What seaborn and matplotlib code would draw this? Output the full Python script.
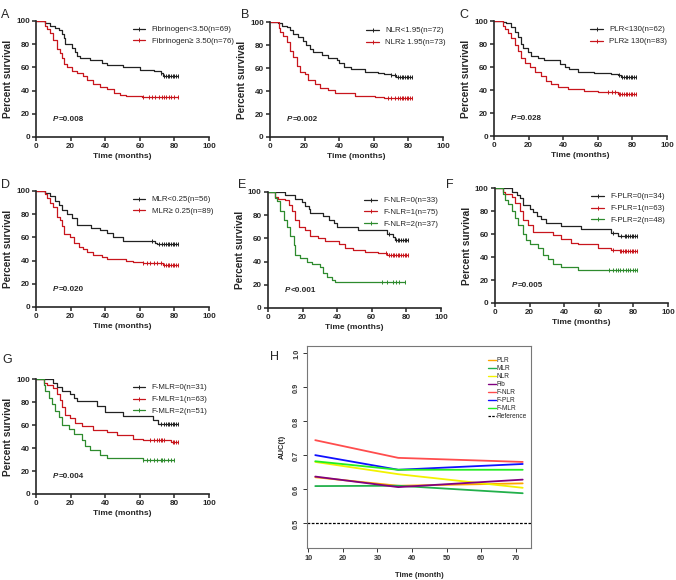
import numpy as np
import matplotlib
matplotlib.use("Agg")
import matplotlib.pyplot as plt
from matplotlib.lines import Line2D
import seaborn as sns

# ---- Kaplan-Meier step data (time in months, survival in %) ----
# A: fibrinogen
a_lo_t = [0, 5, 8, 11, 13, 15, 16, 17, 21, 22.6, 23.6, 25.5, 31, 38, 41, 50, 60, 68, 72, 73.5, 82]
a_lo_s = [100, 98, 96, 94, 92, 89, 85, 80, 77, 73, 70, 68, 66, 64, 62, 60, 58, 57, 55, 53, 53]
a_lo_c = [72, 74, 75, 76, 77, 78, 79, 80, 81, 82]
a_hi_t = [0, 5.4, 6.3, 8.3, 10, 12, 14, 15, 16, 18, 21, 23.6, 27.4, 29.4, 33, 37, 41, 45, 48.5, 52, 61, 82]
a_hi_s = [100, 96, 93, 90, 84, 76, 72, 68, 63, 60, 57, 55, 53, 49, 46, 43, 41, 38, 36, 35, 34.5, 34.5]
a_hi_c = [62, 65, 67, 69, 71, 73, 74, 75, 77, 78, 80, 82]

# B: NLR
b_lo_t = [0, 4.8, 6.7, 9.6, 11.5, 13.5, 16.3, 19, 21, 23, 25, 30, 33.6, 38.5, 40, 43, 47, 55, 62.5, 66, 70, 73, 82]
b_lo_s = [100, 99, 97, 96, 93, 90, 87, 84, 80, 77, 74, 71, 69, 67, 64, 61, 59, 57, 56, 55, 54, 52, 52]
b_lo_c = [70, 72, 74, 75, 76, 77, 78, 79, 80, 81, 82]
b_hi_t = [0, 5, 5.8, 7.7, 9.6, 11.5, 13.5, 15.4, 17.3, 20, 22, 26, 28.8, 33.6, 37.5, 49, 60.6, 66, 82]
b_hi_s = [100, 95, 91, 88, 83, 75, 70, 62, 57, 55, 50, 46, 43, 41, 38, 36, 35, 34, 34]
b_hi_c = [68, 70, 72, 74, 75, 76, 77, 78, 79, 80, 81, 82]

# C: PLR
c_lo_t = [0, 5.2, 7, 10, 12, 13.8, 15.8, 16.7, 19.6, 21.5, 25.4, 29, 38, 40.8, 43.6, 48.5, 58, 67.7, 71.5, 73.5, 82]
c_lo_s = [100, 99, 98, 95, 91, 86, 80, 77, 73, 70, 68, 66, 63, 60, 58, 56, 55, 54, 53, 51.5, 51.5]
c_lo_c = [72, 74, 75, 76, 77, 78, 79, 80, 81, 82]
c_hi_t = [0, 5.2, 6.2, 8, 10, 12, 13.8, 15.8, 17.7, 20.6, 23.5, 27.3, 30.2, 33, 37, 42.7, 52, 60, 71.5, 82]
c_hi_s = [100, 96, 93, 90, 85, 79, 74, 68, 64, 60, 56, 52, 48, 45, 43, 41, 39, 38, 37, 37]
c_hi_c = [66, 68, 70, 72, 73, 74, 75, 76, 77, 78, 79, 80, 81, 82]

# D: MLR
d_lo_t = [0, 5.4, 8.3, 11, 13, 15, 17.8, 20.7, 23.6, 32, 37, 41, 44.7, 50.5, 67.8, 68.7, 69.7, 82]
d_lo_s = [100, 98, 96, 91, 88, 84, 80, 77, 71, 68, 66, 64, 60, 57, 57, 55, 54, 54]
d_lo_c = [67, 71, 73, 74, 75, 76, 77, 78, 79, 80, 81, 82]
d_hi_t = [0, 5.2, 6.3, 8.3, 10, 12, 14, 15, 16, 19.8, 21.7, 24.6, 27.4, 29.4, 33, 38, 41, 52, 56, 62, 73.5, 82]
d_hi_s = [100, 97, 94, 90, 86, 78, 75, 70, 63, 60, 55, 52, 50, 47, 45, 43, 41, 40, 39, 38, 36.5, 36.5]
d_hi_c = [62, 64, 66, 68, 70, 72, 74, 75, 76, 77, 78, 79, 80, 81, 82]

# E: F-NLR
e_0_t = [0, 10, 15.8, 19.6, 21.5, 23.5, 24.4, 32, 35, 37.9, 39.8, 52.3, 68.7, 72.5, 73.5, 81]
e_0_s = [100, 97, 94, 91, 88, 85, 82, 79, 76, 73, 70, 67, 64, 61, 59, 59]
e_0_c = [70, 74, 75, 76, 77, 78, 79, 80, 81]
e_1_t = [0, 4.2, 6, 10, 12, 13.8, 15.8, 17.7, 21.5, 24.4, 29, 33, 40.8, 44.6, 49.4, 56, 63.8, 69, 81]
e_1_s = [100, 96, 94, 93, 89, 84, 76, 70, 67, 62, 60, 58, 55, 52, 50, 48, 47, 46, 46]
e_1_c = [68, 70, 71, 72, 73, 74, 75, 76, 77, 78, 79, 80, 81]
e_2_t = [0, 4.2, 5.2, 7, 9, 11, 12.9, 14.8, 15.8, 18.7, 22.5, 25.4, 30, 32, 34, 37, 38.8, 79]
e_2_s = [100, 95, 92, 84, 76, 70, 62, 54, 46, 43, 40, 38, 35, 30, 27, 24, 22, 22]
e_2_c = [66, 69, 72, 74, 76, 79]

# F: F-PLR
f_0_t = [0, 6.7, 9.6, 12.5, 14.4, 16.3, 20, 22, 24, 26.8, 29.7, 38.3, 49.8, 67, 70.9, 82]
f_0_s = [100, 100, 97, 94, 91, 85, 82, 79, 76, 73, 70, 67, 64, 61, 58, 58]
f_0_c = [68, 73, 75, 76, 77, 78, 79, 80, 81, 82]
f_1_t = [0, 4.8, 5.7, 9.6, 11.5, 14.4, 16.3, 19.2, 22, 33.5, 38.3, 44, 47.9, 59.4, 67, 72, 82]
f_1_s = [100, 97, 95, 92, 87, 80, 72, 68, 62, 59, 56, 52, 51, 48, 46, 45, 45]
f_1_c = [68, 72, 73, 74, 75, 76, 77, 78, 79, 80, 81, 82]
f_2_t = [0, 4.8, 5.7, 7.7, 9.6, 11.5, 13.4, 16.3, 18.2, 20, 25, 27.8, 30.7, 33.5, 38.3, 47.9, 82]
f_2_s = [100, 95, 90, 86, 80, 74, 68, 60, 55, 51, 48, 42, 38, 34, 31, 29, 29]
f_2_c = [66, 68, 70, 71, 72, 74, 76, 77, 78, 80, 81, 82]

# G: F-MLR
g_0_t = [0, 8.3, 10, 12, 15, 19.8, 21.7, 23.6, 35, 40, 50.5, 67.8, 70.6, 82]
g_0_s = [100, 100, 97, 93, 90, 87, 84, 81, 77, 71, 68, 64, 61, 61]
g_0_c = [72, 74, 75, 76, 77, 78, 79, 80, 81, 82]
g_1_t = [0, 4.4, 6.3, 10, 12, 14, 15, 17, 19.8, 22.6, 26.5, 33, 41, 46.6, 56, 62, 78, 82]
g_1_s = [100, 97, 95, 92, 87, 82, 76, 69, 66, 62, 59, 56, 54, 51, 48, 47, 45, 45]
g_1_c = [66, 68, 70, 71, 72, 73, 74, 79, 80, 81, 82]
g_2_t = [0, 4.4, 5.4, 7.3, 9.2, 11, 13, 15, 18.8, 21.7, 26.5, 28.4, 31.3, 37, 41, 62, 80]
g_2_s = [100, 95, 90, 84, 78, 72, 67, 60, 57, 52, 47, 42, 38, 34, 31, 29.5, 29.5]
g_2_c = [62, 64, 66, 68, 70, 72, 73, 74, 76, 78, 80]

km_labels = {
    "A": ["Fibrinogen<3.50(n=69)", "Fibrinogen\u2265 3.50(n=76)"],
    "B": ["NLR<1.95(n=72)", "NLR\u2265 1.95(n=73)"],
    "C": ["PLR<130(n=62)", "PLR\u2265 130(n=83)"],
    "D": ["MLR<0.25(n=56)", "MLR\u2265 0.25(n=89)"],
    "E": ["F-NLR=0(n=33)", "F-NLR=1(n=75)", "F-NLR=2(n=37)"],
    "F": ["F-PLR=0(n=34)", "F-PLR=1(n=63)", "F-PLR=2(n=48)"],
    "G": ["F-MLR=0(n=31)", "F-MLR=1(n=63)", "F-MLR=2(n=51)"],
}
p_values = {"A": "=0.008", "B": "=0.002", "C": "=0.028", "D": "=0.020",
            "E": "<0.001", "F": "=0.005", "G": "=0.004"}

# ---- H: time-dependent AUC ----
auc_times = [12, 36, 72]
auc_names = ["PLR", "MLR", "NLR", "Fib", "F-NLR", "F-PLR", "F-MLR"]
auc_plr = [0.636, 0.611, 0.618]
auc_mlr = [0.610, 0.611, 0.589]
auc_nlr = [0.681, 0.645, 0.605]
auc_fib = [0.638, 0.607, 0.629]
auc_fnlr = [0.745, 0.693, 0.681]
auc_fplr = [0.701, 0.658, 0.675]
auc_fmlr = [0.683, 0.658, 0.658]
auc_ref = 0.5

KM_COLORS = ["#222222", "#c8161d", "#2e8b2e"]
H_COLORS = ["#ffa500", "#22b04b", "#f2f200", "#800080", "#ff4d4d", "#1010ff", "#22ee22"]

sns.set_style("ticks")
plt.rcParams["font.family"] = ["Liberation Sans", "DejaVu Sans"]

fig = plt.figure(figsize=(6.76, 5.8), dpi=100)


def km_panel(rect, curves, letter):
    ax = fig.add_axes(rect)
    labels = km_labels[letter]
    for i, (t, s, c) in enumerate(curves):
        t = np.asarray(t, float)
        s = np.asarray(s, float)
        sns.lineplot(x=t, y=s, drawstyle="steps-post", estimator=None, sort=False,
                     color=KM_COLORS[i], lw=0.9, ax=ax)
        c = np.asarray(c, float)
        cy = s[np.searchsorted(t, c, side="right") - 1]
        ax.plot(c, cy, ls="none", marker="|", ms=3.5, mew=0.7, color=KM_COLORS[i])
    ax.set_xlim(0, 100)
    ax.set_ylim(0, 100)
    ax.set_xticks(range(0, 101, 20))
    ax.set_yticks(range(0, 101, 20))
    for lab in ax.get_xticklabels() + ax.get_yticklabels():
        lab.set_fontweight("bold")
    ax.tick_params(labelsize=5.8, length=3, width=1.1, pad=1.5)
    for sp in ["left", "bottom"]:
        ax.spines[sp].set_linewidth(1.2)
    sns.despine(ax=ax)
    ax.set_xlabel("Time (months)", fontsize=6, fontweight="bold", labelpad=2)
    ax.set_ylabel("Percent survival", fontsize=7.3, fontweight="bold", labelpad=2)
    handles = [Line2D([0], [0], color=KM_COLORS[i], lw=0.9, marker="|", ms=3.5, mew=0.7)
               for i in range(len(labels))]
    ax.legend(handles, labels, loc="upper left", bbox_to_anchor=(0.53, 1.0), frameon=False,
              fontsize=5.7, handlelength=1.6, handletextpad=0.8, labelspacing=0.55,
              numpoints=1, borderaxespad=0.2)
    ax.text(10, 15, "P", fontsize=5.8, fontweight="bold", fontstyle="italic", va="center")
    ax.annotate(p_values[letter], (10, 15), xytext=(3.9, 0), textcoords="offset points",
                fontsize=5.8, fontweight="bold", va="center")
    return ax


W = 0.256
km_panel([0.0533, 0.7638, W, 0.200], [(a_lo_t, a_lo_s, a_lo_c), (a_hi_t, a_hi_s, a_hi_c)], "A")
km_panel([0.3994, 0.7638, W, 0.198], [(b_lo_t, b_lo_s, b_lo_c), (b_hi_t, b_hi_s, b_hi_c)], "B")
km_panel([0.7308, 0.7655, W, 0.198], [(c_lo_t, c_lo_s, c_lo_c), (c_hi_t, c_hi_s, c_hi_c)], "C")
km_panel([0.0533, 0.4707, W, 0.200], [(d_lo_t, d_lo_s, d_lo_c), (d_hi_t, d_hi_s, d_hi_c)], "D")
km_panel([0.3964, 0.4690, W, 0.200], [(e_0_t, e_0_s, e_0_c), (e_1_t, e_1_s, e_1_c),
                                      (e_2_t, e_2_s, e_2_c)], "E")
km_panel([0.7322, 0.4776, W, 0.198], [(f_0_t, f_0_s, f_0_c), (f_1_t, f_1_s, f_1_c),
                                      (f_2_t, f_2_s, f_2_c)], "F")
km_panel([0.0533, 0.1483, W, 0.198], [(g_0_t, g_0_s, g_0_c), (g_1_t, g_1_s, g_1_c),
                                      (g_2_t, g_2_s, g_2_c)], "G")

# panel H
axh = fig.add_axes([0.4541, 0.0552, 0.3314, 0.3483])
auc_series = [auc_plr, auc_mlr, auc_nlr, auc_fib, auc_fnlr, auc_fplr, auc_fmlr]
for name, vals, col in zip(auc_names, auc_series, H_COLORS):
    sns.lineplot(x=auc_times, y=vals, color=col, lw=1.3, ax=axh, estimator=None, sort=False)
axh.axhline(auc_ref, color="black", lw=0.9, ls=(0, (2.2, 1.2)))
axh.set_xlim(9.6, 74.4)
axh.set_ylim(0.428, 1.022)
axh.set_xticks(range(10, 71, 10))
axh.set_yticks([0.5, 0.6, 0.7, 0.8, 0.9, 1.0])
axh.set_yticklabels(["0.5", "0.6", "0.7", "0.8", "0.9", "1.0"], rotation=90, va="center")
for lab in axh.get_xticklabels() + axh.get_yticklabels():
    lab.set_fontweight("bold")
axh.tick_params(labelsize=5.3, length=3, width=0.7, pad=2, colors="#333333")
for sp in axh.spines.values():
    sp.set_linewidth(0.8)
    sp.set_color("#777777")
axh.set_xlabel("Time (month)", fontsize=5.5, fontweight="bold", labelpad=7)
axh.set_ylabel("AUC(t)", fontsize=5.5, fontweight="bold", labelpad=5)
h_handles = [Line2D([0], [0], color=c, lw=1.0) for c in H_COLORS]
h_handles.append(Line2D([0], [0], color="black", lw=0.9, ls=(0, (2, 1))))
axh.legend(h_handles, auc_names + ["Reference"], loc="upper right", frameon=False,
           fontsize=4.7, handlelength=1.2, handletextpad=0.1, labelspacing=0.15,
           borderaxespad=0.4, bbox_to_anchor=(1.005, 0.97))

# panel letters
for letter, x, y in [("A", 0.002, 0.985), ("B", 0.356, 0.985), ("C", 0.68, 0.985),
                     ("D", 0.002, 0.692), ("E", 0.352, 0.692), ("F", 0.66, 0.692),
                     ("G", 0.004, 0.39), ("H", 0.40, 0.395)]:
    fig.text(x, y, letter, fontsize=9, va="top", ha="left")

fig.savefig("out.png", dpi=100)
